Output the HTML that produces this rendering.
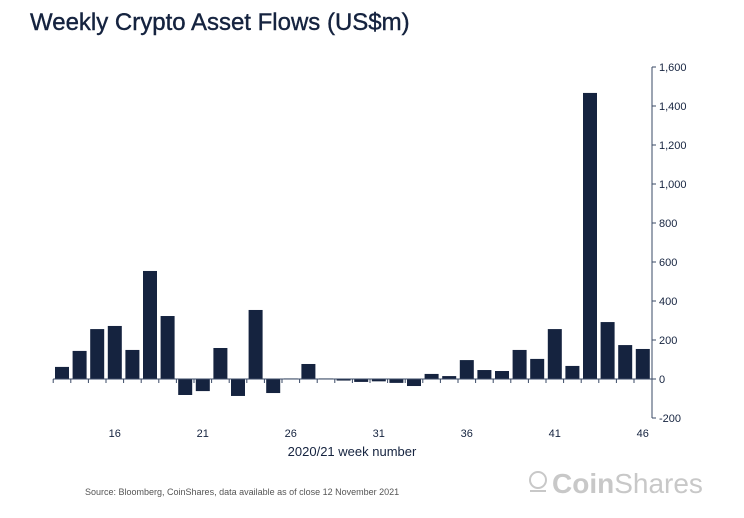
<!DOCTYPE html>
<html><head><meta charset="utf-8"><style>
body{margin:0;background:#fff;width:744px;height:513px;overflow:hidden;font-family:"Liberation Sans",sans-serif}
</style></head><body>
<svg width="744" height="513" xmlns="http://www.w3.org/2000/svg">
<text x="30" y="30" font-size="24" fill="#15233f" stroke="#15233f" stroke-width="0.4">Weekly Crypto Asset Flows (US$m)</text>
<g id="bars"></g>
<g id="axis"></g>
<text x="352" y="456" font-size="13" fill="#15233f" text-anchor="middle">2020/21 week number</text>
<text x="85" y="495" font-size="9" fill="#555">Source: Bloomberg, CoinShares, data available as of close 12 November 2021</text>
<g>
<circle cx="538" cy="480" r="8" fill="none" stroke="#c8c8c8" stroke-width="2"/>
<path d="M530 491 h16" stroke="#c8c8c8" stroke-width="2"/>
<text x="552" y="493" font-size="28" fill="#c8c8c8"><tspan font-weight="bold">Coin</tspan>Shares</text>
</g>
</svg>
<script>
const weeks=[13,14,15,16,17,18,19,20,21,22,23,24,25,26,27,28,29,30,31,32,33,34,35,36,37,38,39,40,41,42,43,44,45,46];
const flows=[62,144,256,272,149,554,323,-82,-62,159,-87,354,-72,3,77,3,-8,-15,-12,-20,-36,26,15,97,46,41,149,103,256,67,1467,292,174,154];
const yTicks=[-200,0,200,400,600,800,1000,1200,1400,1600];
const xLabels=[16,21,26,31,36,41,46];
const NS="http://www.w3.org/2000/svg";
const x0=62,band=17.6,bw=14,axisX=652;
const xs=w=>x0+(w-weeks[0])*band;
const ys=v=>379-v*39/200;
const bars=document.getElementById('bars'),axis=document.getElementById('axis');
function mk(tag,attrs,parent){const e=document.createElementNS(NS,tag);for(const k in attrs)e.setAttribute(k,attrs[k]);parent.appendChild(e);return e;}
weeks.forEach((w,i)=>{const v=flows[i];
 const r=mk('rect',{x:xs(w)-bw/2,y:Math.min(ys(v),ys(0)),width:bw,height:Math.abs(ys(v)-ys(0)),fill:'#15233f'},bars);
 
 
});
const base=mk('line',{x1:xs(weeks[0])-band/2,x2:axisX,y1:ys(0),y2:ys(0),stroke:'#3a4a66','stroke-width':1},axis);


weeks.forEach(w=>{mk('line',{x1:xs(w)-band/2,x2:xs(w)-band/2,y1:ys(0),y2:ys(0)+4,stroke:'#3a4a66'},axis);});
xLabels.forEach(w=>{const t=mk('text',{x:xs(w),y:437,'font-size':11,fill:'#15233f','text-anchor':'middle'},axis);t.textContent=w;
 
 });
const yl=mk('line',{x1:axisX,x2:axisX,y1:ys(1600),y2:ys(-200),stroke:'#3a4a66'},axis);


yTicks.forEach(v=>{mk('line',{x1:axisX,x2:axisX+4,y1:ys(v),y2:ys(v),stroke:'#3a4a66'},axis);
 const t=mk('text',{x:axisX+7,y:ys(v)+4,'font-size':11,fill:'#15233f'},axis);t.textContent=v.toLocaleString('en-US');
 
 });
</script>
</body></html>
